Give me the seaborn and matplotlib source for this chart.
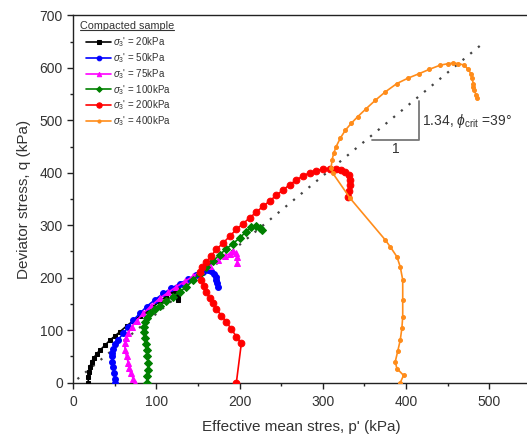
import numpy as np
import pandas as pd
import matplotlib
matplotlib.use("Agg")
import matplotlib.pyplot as plt
import seaborn as sns
from matplotlib.ticker import MultipleLocator
from matplotlib.lines import Line2D

# ---- data ----
p_20 = [18, 18, 19, 20, 22, 25, 28, 32, 38, 44, 50, 56, 64, 72, 80, 88, 96, 104, 112, 120, 124, 126, 126, 126, 126, 126]
q_20 = [0, 10, 20, 30, 40, 48, 55, 62, 71, 81, 89, 97, 108, 118, 127, 136, 145, 155, 165, 175, 180, 183, 177, 170, 163, 157]

p_50 = [50, 50, 49, 48, 47, 46, 47, 48, 50, 54, 60, 66, 72, 80, 88, 98, 108, 118, 128, 138, 148, 156, 162, 166, 169, 171, 172, 173, 174]
q_50 = [0, 8, 18, 30, 40, 50, 57, 65, 73, 82, 94, 106, 119, 132, 145, 158, 170, 180, 189, 197, 205, 211, 214, 213, 208, 202, 196, 190, 183]

p_75 = [74, 72, 69, 67, 66, 64, 62, 62, 63, 66, 70, 76, 84, 94, 104, 114, 124, 134, 144, 154, 164, 174, 182, 188, 192, 195, 197, 197]
q_75 = [0, 8, 18, 28, 38, 50, 62, 75, 85, 94, 106, 118, 132, 147, 161, 172, 183, 193, 203, 213, 223, 233, 241, 246, 250, 248, 240, 228]

p_100 = [88, 89, 90, 90, 89, 88, 87, 86, 85, 85, 86, 88, 92, 98, 104, 112, 120, 128, 136, 144, 152, 160, 168, 176, 184, 192, 200, 208, 214, 220, 224, 227]
q_100 = [0, 12, 25, 38, 50, 62, 74, 85, 96, 106, 116, 124, 132, 140, 147, 156, 164, 173, 183, 195, 208, 220, 232, 244, 255, 265, 276, 288, 296, 298, 295, 291]

p_200 = [196, 202, 196, 190, 184, 178, 172, 168, 164, 160, 157, 154, 152, 155, 160, 166, 172, 180, 188, 196, 204, 212, 220, 228, 236, 244, 252, 260, 268, 276, 284, 292, 300, 308, 316, 322, 327, 331, 333, 333, 332, 330]
q_200 = [0, 75, 88, 102, 116, 128, 140, 152, 162, 172, 184, 196, 210, 220, 230, 242, 254, 266, 279, 292, 303, 314, 325, 336, 346, 357, 367, 377, 386, 394, 400, 404, 407, 408, 408, 406, 402, 395, 386, 376, 365, 354]

p_400 = [393, 397, 389, 387, 390, 393, 395, 396, 396, 396, 393, 389, 381, 375, 333, 312, 310, 311, 313, 316, 321, 327, 334, 342, 352, 363, 375, 389, 402, 416, 428, 441, 451, 457, 463, 470, 474, 478, 479, 481, 480, 482, 484, 485]
q_400 = [0, 14, 27, 40, 60, 81, 104, 126, 157, 196, 221, 240, 259, 272, 351, 399, 410, 424, 437, 450, 466, 481, 494, 507, 522, 538, 554, 570, 580, 589, 597, 605, 608, 609, 608, 605, 598, 589, 580, 570, 563, 557, 549, 542]

labels = [r"$\sigma_3$' = 20kPa", r"$\sigma_3$' = 50kPa", r"$\sigma_3$' = 75kPa",
          r"$\sigma_3$' = 100kPa", r"$\sigma_3$' = 200kPa", r"$\sigma_3$' = 400kPa"]
colors = ["#000000", "#0000ff", "#ff00ff", "#008000", "#ff0000", "#ff8c1a"]
markers = ["s", "o", "^", "D", "o", "o"]
msizes = [3.2, 4.2, 4.0, 3.6, 4.8, 2.8]

crit_p = [5, 495]
crit_q = [7, 650]

tri_p = [359, 416, 416]
tri_q = [462, 462, 537]

# ---- style ----
sns.set_style("ticks")
plt.rcParams["font.family"] = ["Liberation Sans", "DejaVu Sans"]
plt.rcParams["mathtext.fontset"] = "custom"
plt.rcParams["mathtext.rm"] = "Liberation Sans"
plt.rcParams["mathtext.it"] = "Liberation Sans:italic"
plt.rcParams["mathtext.bf"] = "Liberation Sans:bold"

fig = plt.figure(figsize=(5.27, 4.37), dpi=100)
ax = fig.add_axes([73.3 / 527, (437 - 382.7) / 437, (530 - 73.3) / 527, (382.7 - 15.3) / 437])

series = [(p_20, q_20), (p_50, q_50), (p_75, q_75), (p_100, q_100), (p_200, q_200), (p_400, q_400)]
for (pp, qq), lab, c, m, ms in zip(series, labels, colors, markers, msizes):
    df = pd.DataFrame({"p": pp, "q": qq})
    sns.lineplot(data=df, x="p", y="q", sort=False, estimator=None, ax=ax,
                 color=c, marker=m, markersize=ms, markeredgecolor=c,
                 linewidth=1.2, label=lab, zorder=3)

# critical state line
ax.plot(crit_p, crit_q, color="#444444", linewidth=1.6, linestyle=(0, (1, 3.5)), zorder=2)
# slope triangle
ax.plot(tri_p, tri_q, color="#777777", linewidth=1.3, zorder=2)
ax.text((tri_p[0] + tri_p[1]) / 2, tri_q[0] - 4, "1", ha="center", va="top", fontsize=10, color="#333333")
ax.text(tri_p[2] + 3, (tri_q[1] + tri_q[2]) / 2, r"1.34, $\phi_{\rm crit}$ =39°", ha="left", va="center",
        fontsize=10, color="#333333")

ax.set_xlim(0, 549)
ax.set_ylim(0, 700)
ax.xaxis.set_major_locator(MultipleLocator(100))
ax.xaxis.set_minor_locator(MultipleLocator(50))
ax.yaxis.set_major_locator(MultipleLocator(100))
ax.yaxis.set_minor_locator(MultipleLocator(50))
ax.tick_params(which="major", direction="out", length=4, width=1, labelsize=10, colors="#222222", labelcolor="#333333")
ax.tick_params(axis="x", which="major", pad=5)
ax.tick_params(which="minor", direction="out", length=2.5, width=1, colors="#222222")
ax.tick_params(top=False, right=False, which="both")
for s in ax.spines.values():
    s.set_visible(True)
    s.set_linewidth(1.0)
    s.set_color("#222222")

ax.set_xlabel("Effective mean stres, p' (kPa)", fontsize=11, color="#333333", labelpad=8)
ax.set_ylabel("Deviator stress, q (kPa)", fontsize=11, color="#333333", labelpad=6)

# legend title as separate underlined text
title = ax.text(6.7 / 456.7, 1 - (26 - 15.3) / 367.4, "Compacted sample", transform=ax.transAxes,
                ha="left", va="center", fontsize=7.8, color="#333333")

leg = ax.legend(loc="upper left", bbox_to_anchor=((86 - 73.3) / 456.7, 1 - (35.5 - 15.3) / 367.4),
                frameon=False, fontsize=7, handlelength=2.6, labelspacing=0.2, handletextpad=0.15,
                borderaxespad=0.0, borderpad=0.0, markerscale=0.8)
for t in leg.get_texts():
    t.set_color("#333333")

fig.canvas.draw()
bb = title.get_window_extent(fig.canvas.get_renderer())
inv = fig.transFigure.inverted()
(x0, y0), (x1, y1) = inv.transform([[bb.x0, bb.y0], [bb.x1, bb.y1]])
fig.add_artist(Line2D([x0, x1], [y0 + 0.003, y0 + 0.003], transform=fig.transFigure, color="#333333", linewidth=0.8))

fig.savefig("out.png", dpi=100)
